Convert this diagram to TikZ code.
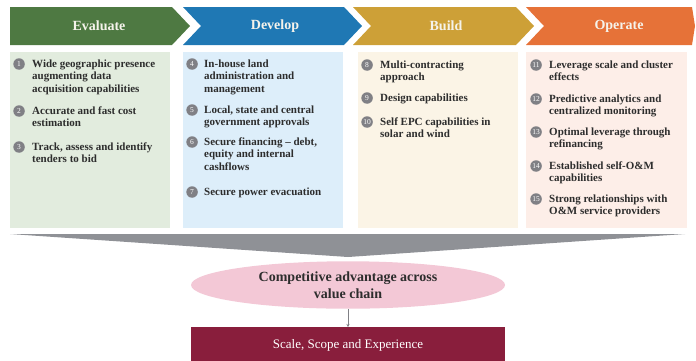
\documentclass[tikz,border=0pt]{standalone}
\usepackage{fontspec}
\setmainfont{Liberation Serif}
\usetikzlibrary{positioning,shapes.geometric,arrows.meta}

\definecolor{evalgreen}{RGB}{78,121,66}
\definecolor{devblue}{RGB}{31,120,180}
\definecolor{buildgold}{RGB}{205,160,55}
\definecolor{oporange}{RGB}{230,114,56}
\definecolor{evalpanel}{RGB}{226,236,222}
\definecolor{devpanel}{RGB}{221,238,250}
\definecolor{buildpanel}{RGB}{251,244,230}
\definecolor{oppanel}{RGB}{253,238,232}
\definecolor{headtext}{RGB}{245,243,235}
\definecolor{itemtext}{RGB}{45,45,45}
\definecolor{numgray}{RGB}{128,128,133}
\definecolor{wedgegray}{RGB}{143,145,150}
\definecolor{ellpink}{RGB}{243,200,214}
\definecolor{boxred}{RGB}{137,30,60}

\tikzset{
  head/.style={text=headtext, font=\fontsize{14}{16}\selectfont\bfseries},
  item/.style={anchor=north west, align=left, inner sep=0pt, text=itemtext,
    font=\fontsize{11}{12.5}\selectfont\bfseries},
  num/.style={circle, fill=numgray, text=white, minimum size=11.5pt, inner sep=0pt,
    font=\fontsize{7.5}{8}\selectfont},
}

\begin{document}
\begin{tikzpicture}[x=1pt, y=-1pt]
\useasboundingbox (0,0) rectangle (696,360);

% header chevrons
\fill [evalgreen] (10,7) -- (172,7) -- (190,26) -- (172,45) -- (10,45) -- cycle;
\fill [devblue] (183,7) -- (344,7) -- (362,26) -- (344,45) -- (183,45) -- (201,26) -- cycle;
\fill [buildgold] (353,7) -- (516,7) -- (534,26) -- (516,45) -- (353,45) -- (371,26) -- cycle;
\fill [oporange] (526,7) -- (692,7) -- (695,26) -- (692,45) -- (526,45) -- (544,26) -- cycle;
\node (hEval) [head] at (99,26) {Evaluate};
\node (hDev) [head] at (275,26) {Develop};
\node (hBuild) [head] at (446,26) {Build};
\node (hOp) [head] at (619,26) {Operate};

% panels
\fill [evalpanel] (10,52) rectangle (170,228);
\fill [devpanel] (183,52) rectangle (343,228);
\fill [buildpanel] (358,52) rectangle (518,228);
\fill [oppanel] (526,52) rectangle (687,228);

% evaluate
\node (t1) [item] at (32,59.5) {Wide geographic presence\\augmenting data\\acquisition capabilities};
\node (t2) [item] at (32,106.5) {Accurate and fast cost\\estimation};
\node (t3) [item] at (32,142.5) {Track, assess and identify\\tenders to bid};
% develop
\node (t4) [item] at (204,59.5) {In-house land\\administration and\\management};
\node (t5) [item] at (204,105.5) {Local, state and central\\government approvals};
\node (t6) [item] at (204,137.5) {Secure financing -- debt,\\equity and internal\\cashflows};
\node (t7) [item] at (204,187.5) {Secure power evacuation};
% build
\node (t8) [item] at (380,60.5) {Multi-contracting\\approach};
\node (t9) [item] at (380,93.5) {Design capabilities};
\node (t10) [item] at (380,117.5) {Self EPC capabilities in\\solar and wind};
% operate
\node (t11) [item] at (549,60.5) {Leverage scale and cluster\\effects};
\node (t12) [item] at (549,94.5) {Predictive analytics and\\centralized monitoring};
\node (t13) [item] at (549,127.5) {Optimal leverage through\\refinancing};
\node (t14) [item] at (549,161.5) {Established self-O\&M\\capabilities};
\node (t15) [item] at (549,194.5) {Strong relationships with\\O\&M service providers};

% numbers
\node (n1) [num, left=7pt of t1.north west, yshift=-4.5pt] {1};
\node (n2) [num, left=7pt of t2.north west, yshift=-4.5pt] {2};
\node (n3) [num, left=7pt of t3.north west, yshift=-4.5pt] {3};
\node (n4) [num, left=6pt of t4.north west, yshift=-4.5pt] {4};
\node (n5) [num, left=6pt of t5.north west, yshift=-4.5pt] {5};
\node (n6) [num, left=6pt of t6.north west, yshift=-4.5pt] {6};
\node (n7) [num, left=6pt of t7.north west, yshift=-4.5pt] {7};
\node (n8) [num, left=7pt of t8.north west, yshift=-4.5pt] {8};
\node (n9) [num, left=7pt of t9.north west, yshift=-4.5pt] {9};
\node (n10) [num, left=7pt of t10.north west, yshift=-4.5pt] {10};
\node (n11) [num, left=7pt of t11.north west, yshift=-4.5pt] {11};
\node (n12) [num, left=7pt of t12.north west, yshift=-4.5pt] {12};
\node (n13) [num, left=7pt of t13.north west, yshift=-4.5pt] {13};
\node (n14) [num, left=7pt of t14.north west, yshift=-4.5pt] {14};
\node (n15) [num, left=7pt of t15.north west, yshift=-4.5pt] {15};

% funnel into the result
\fill [wedgegray] (10,234) -- (685,234) -- (348,257) -- cycle;

\node (adv) [ellipse, fill=ellpink, minimum width=314pt, minimum height=46pt, align=center,
  text=itemtext, font=\fontsize{14}{17}\selectfont\bfseries] at (348,285)
  {Competitive advantage across\\value chain};
\node (sse) [fill=boxred, text=white, minimum width=314pt, minimum height=36pt, anchor=north,
  font=\fontsize{13}{15}\selectfont] at (348,327) {Scale, Scope and Experience};

\draw [-{Stealth[length=3pt, width=3pt]}, numgray, line width=0.5pt] (adv.south) -- (sse.north);
\end{tikzpicture}
\end{document}
